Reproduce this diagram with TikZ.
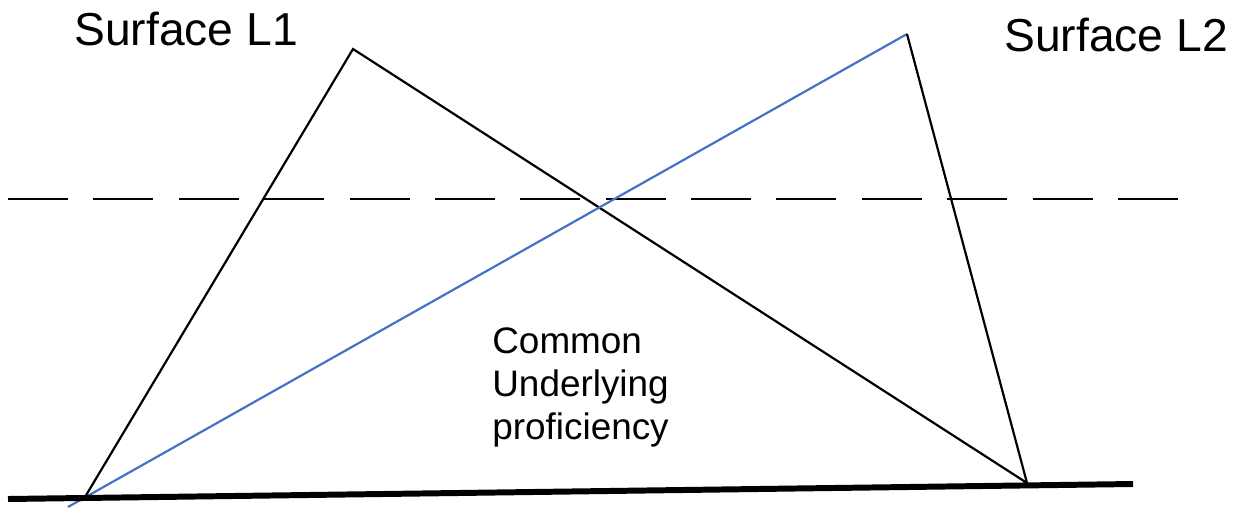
\documentclass[tikz,border=0pt]{standalone}
\usepackage{fontspec}
\setmainfont{Liberation Sans}
\usepackage{tikz}
\usetikzlibrary{positioning, calc}
\definecolor{myblue}{RGB}{68,114,196}
\definecolor{mydark}{RGB}{0,0,0}
\tikzset{
  surface/.style={font=\fontsize{26.3}{31}\selectfont, inner sep=0pt},
  cuplabel/.style={font=\fontsize{21}{24.5}\selectfont, align=left, inner sep=0pt},
  line/.style={line width=1.25pt, color=mydark},
  blueline/.style={line width=1.25pt, color=myblue},
  baseline/.style={line width=3.4pt, color=mydark},
  waterline/.style={line width=1.3pt, color=mydark, dash pattern=on 1.2cm off 0.508cm}
}
\begin{document}
\begin{tikzpicture}[x=0.02cm, y=-0.02cm]
  \useasboundingbox (0,0) rectangle (1236,507);
  % Corners
  \coordinate (groundL) at (8,499);
  \coordinate (groundR) at (1133,484);
  \coordinate (leftfoot) at (85,497);
  \coordinate (bluefoot) at (68,507);
  \coordinate (peakone) at (353,49);
  \coordinate (peaktwo) at (907,34);
  \coordinate (rightfoot) at (1027,483);
  \coordinate (waterL) at (8,199);
  \coordinate (waterR) at (1178,199);
  % Dashed surface line
  \draw[waterline] (waterL) -- (waterR);
  % Iceberg L1
  \draw[line] (leftfoot) -- (peakone) -- (rightfoot);
  % Iceberg L2
  \draw[blueline] (bluefoot) -- (peaktwo);
  \draw[line] (peaktwo) -- (rightfoot);
  % Ground
  \draw[baseline] (groundL) -- (groundR);
  % Labels
  \node[surface, anchor=base west] (labone) at (74,45) {Surface L1};
  \node[surface, anchor=base west] (labtwo) at (1004,51) {Surface L2};
  \node[cuplabel, anchor=north west] (cup) at (492,327) {Common\\Underlying\\proficiency};
\end{tikzpicture}
\end{document}
